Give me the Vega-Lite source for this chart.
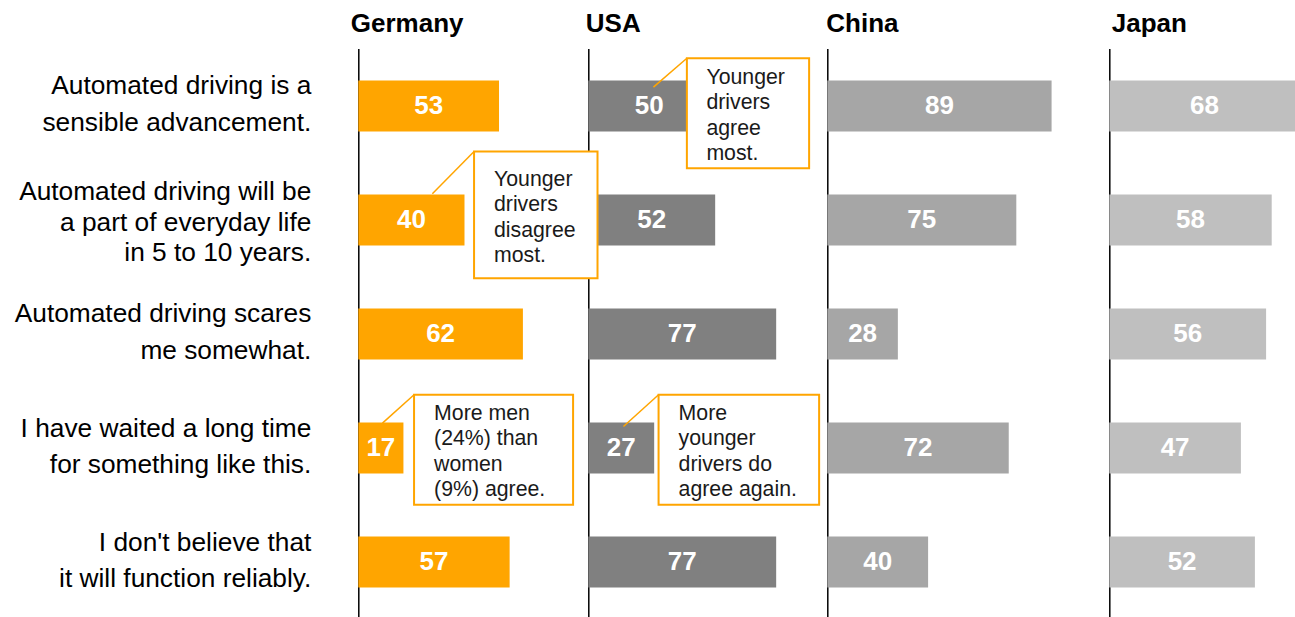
{
  "$schema": "https://vega.github.io/schema/vega-lite/v6.json",
  "padding": {"left": 13.3, "top": 10.5, "right": 0, "bottom": 0},
  "background": "white",
  "bounds": "flush",
  "spacing": 0,
  "config": {
    "view": {"stroke": null},
    "font": "Liberation Sans",
    "title": {"font": "Liberation Sans", "fontSize": 26, "fontWeight": "bold", "color": "black", "anchor": "start", "frame": "group", "offset": 11.5}
  },
  "datasets": {
    "bars": [
      {"country": "Germany", "statement": "Automated driving is a\nsensible advancement.", "value": 53},
      {"country": "Germany", "statement": "Automated driving will be\na part of everyday life\nin 5 to 10 years.", "value": 40},
      {"country": "Germany", "statement": "Automated driving scares\nme somewhat.", "value": 62},
      {"country": "Germany", "statement": "I have waited a long time\nfor something like this.", "value": 17},
      {"country": "Germany", "statement": "I don't believe that\nit will function reliably.", "value": 57},
      {"country": "USA", "statement": "Automated driving is a\nsensible advancement.", "value": 50},
      {"country": "USA", "statement": "Automated driving will be\na part of everyday life\nin 5 to 10 years.", "value": 52},
      {"country": "USA", "statement": "Automated driving scares\nme somewhat.", "value": 77},
      {"country": "USA", "statement": "I have waited a long time\nfor something like this.", "value": 27},
      {"country": "USA", "statement": "I don't believe that\nit will function reliably.", "value": 77},
      {"country": "China", "statement": "Automated driving is a\nsensible advancement.", "value": 89},
      {"country": "China", "statement": "Automated driving will be\na part of everyday life\nin 5 to 10 years.", "value": 75},
      {"country": "China", "statement": "Automated driving scares\nme somewhat.", "value": 28},
      {"country": "China", "statement": "I have waited a long time\nfor something like this.", "value": 72},
      {"country": "China", "statement": "I don't believe that\nit will function reliably.", "value": 40},
      {"country": "Japan", "statement": "Automated driving is a\nsensible advancement.", "value": 68},
      {"country": "Japan", "statement": "Automated driving will be\na part of everyday life\nin 5 to 10 years.", "value": 58},
      {"country": "Japan", "statement": "Automated driving scares\nme somewhat.", "value": 56},
      {"country": "Japan", "statement": "I have waited a long time\nfor something like this.", "value": 47},
      {"country": "Japan", "statement": "I don't believe that\nit will function reliably.", "value": 52}
    ],
    "notes": [
      {"country": "Germany", "note": "Younger\ndrivers\ndisagree\nmost.", "lineX": 27.9, "lineY": 0.770, "boxX": 43.6, "boxY": 0.399, "boxX2": 90.1, "boxY2": 1.511, "textX": 51.1, "textY": 0.698},
      {"country": "Germany", "note": "More men\n(24%) than\nwomen\n(9%) agree.", "lineX": 9.1, "lineY": 2.782, "boxX": 21.0, "boxY": 2.533, "boxX2": 80.9, "boxY2": 3.498, "textX": 28.55, "textY": 2.752},
      {"country": "USA", "note": "Younger\ndrivers\nagree\nmost.", "lineX": 26.7, "lineY": -0.165, "boxX": 40.4, "boxY": -0.419, "boxX2": 90.5, "boxY2": 0.546, "textX": 48.4, "textY": -0.194},
      {"country": "USA", "note": "More\nyounger\ndrivers do\nagree again.", "lineX": 14.4, "lineY": 2.811, "boxX": 28.8, "boxY": 2.533, "boxX2": 94.6, "boxY2": 3.498, "textX": 37.0, "textY": 2.752}
    ]
  },
  "hconcat": [
    {
      "width": 230, "height": 571,
      "title": {"text": "Germany", "dx": -7.5},
      "layer": [
        {
          "data": {"name": "bars"},
          "transform": [{"filter": "datum.country === 'Germany'"}],
          "encoding": {
            "y": {"field": "statement", "type": "nominal", "sort": null,
              "scale": {"paddingInner": 0, "paddingOuter": 0.004},
              "axis": {"title": null, "ticks": false, "domainColor": "black", "domainWidth": 1.5, "labelFontSize": 26.3, "labelColor": "black", "labelPadding": 47.5, "labelLimit": 0,
                "labelLineHeight": {"expr": "length(split(datum.value, '\\n')) > 2 ? 30.3 : 36.9"},
                "labelOffset": {"condition": {"test": "length(split(datum.value, '\\n')) > 2", "value": -27.6}, "value": -19.5},
                "labelExpr": "split(datum.value, '\\n')", "labelAlign": "right", "labelBaseline": "middle", "labelFont": "Liberation Sans"}}
          },
          "layer": [
            {"mark": {"type": "bar", "height": 51, "color": "#FFA500"},
             "encoding": {"x": {"field": "value", "type": "quantitative", "scale": {"domain": [0, 86.63], "nice": false}, "axis": null}}},
            {"mark": {"type": "text", "color": "white", "fontSize": 26, "fontWeight": "bold", "align": "center", "baseline": "middle"},
             "encoding": {"x": {"field": "value", "type": "quantitative", "scale": {"domain": [0, 173.26], "nice": false}, "axis": null}, "text": {"field": "value", "type": "quantitative"}}}
          ],
          "resolve": {"scale": {"x": "independent"}}
        },
        {
          "data": {"name": "notes"},
          "transform": [{"filter": "datum.country === 'Germany' && datum.boxX2 < 86.63"}],
          "layer": [
            {"mark": {"type": "rule", "color": "#FFA500", "strokeWidth": 1.5},
             "encoding": {
               "x": {"field": "lineX", "type": "quantitative", "scale": {"domain": [0, 86.63], "nice": false}, "axis": null},
               "y": {"field": "lineY", "type": "quantitative", "scale": {"domain": [-0.504, 4.504], "reverse": true, "nice": false, "zero": false}, "axis": null},
               "x2": {"field": "boxX"}, "y2": {"field": "boxY"}}},
            {"mark": {"type": "rect", "fill": "white", "stroke": "#FFA500", "strokeWidth": 2},
             "encoding": {
               "x": {"field": "boxX", "type": "quantitative", "scale": {"domain": [0, 86.63], "nice": false}, "axis": null},
               "y": {"field": "boxY", "type": "quantitative", "scale": {"domain": [-0.504, 4.504], "reverse": true, "nice": false, "zero": false}, "axis": null},
               "x2": {"field": "boxX2"}, "y2": {"field": "boxY2"}}},
            {"mark": {"type": "text", "align": "left", "baseline": "alphabetic", "lineBreak": "\n", "fontSize": 21.3, "lineHeight": 25.5, "color": "#1a1a1a"},
             "encoding": {
               "x": {"field": "textX", "type": "quantitative", "scale": {"domain": [0, 86.63], "nice": false}, "axis": null},
               "y": {"field": "textY", "type": "quantitative", "scale": {"domain": [-0.504, 4.504], "reverse": true, "nice": false, "zero": false}, "axis": null},
               "text": {"field": "note", "type": "nominal"}}}
          ]
        }
      ],
      "resolve": {"scale": {"x": "independent", "y": "independent"}}
    },
    {
      "width": 239, "height": 571,
      "title": {"text": "USA", "dx": -2.5},
      "layer": [
        {
          "data": {"name": "bars"},
          "transform": [{"filter": "datum.country === 'USA'"}],
          "encoding": {
            "y": {"field": "statement", "type": "nominal", "sort": null,
              "scale": {"paddingInner": 0, "paddingOuter": 0.004},
              "axis": {"title": null, "ticks": false, "labels": false, "domainColor": "black", "domainWidth": 1.5}}
          },
          "layer": [
            {"mark": {"type": "bar", "height": 51, "color": "#808080"},
             "encoding": {"x": {"field": "value", "type": "quantitative", "scale": {"domain": [0, 97.95], "nice": false}, "axis": null}}},
            {"mark": {"type": "text", "color": "white", "fontSize": 26, "fontWeight": "bold", "align": "center", "baseline": "middle"},
             "encoding": {"x": {"field": "value", "type": "quantitative", "scale": {"domain": [0, 195.9], "nice": false}, "axis": null}, "text": {"field": "value", "type": "quantitative"}}}
          ],
          "resolve": {"scale": {"x": "independent"}}
        },
        {
          "data": {"name": "notes"},
          "transform": [{"filter": "datum.country === 'USA'"}],
          "layer": [
            {"mark": {"type": "rule", "color": "#FFA500", "strokeWidth": 1.5},
             "encoding": {
               "x": {"field": "lineX", "type": "quantitative", "scale": {"domain": [0, 97.95], "nice": false}, "axis": null},
               "y": {"field": "lineY", "type": "quantitative", "scale": {"domain": [-0.504, 4.504], "reverse": true, "nice": false, "zero": false}, "axis": null},
               "x2": {"field": "boxX"}, "y2": {"field": "boxY"}}},
            {"mark": {"type": "rect", "fill": "white", "stroke": "#FFA500", "strokeWidth": 2},
             "encoding": {
               "x": {"field": "boxX", "type": "quantitative", "scale": {"domain": [0, 97.95], "nice": false}, "axis": null},
               "y": {"field": "boxY", "type": "quantitative", "scale": {"domain": [-0.504, 4.504], "reverse": true, "nice": false, "zero": false}, "axis": null},
               "x2": {"field": "boxX2"}, "y2": {"field": "boxY2"}}},
            {"mark": {"type": "text", "align": "left", "baseline": "alphabetic", "lineBreak": "\n", "fontSize": 21.3, "lineHeight": 25.5, "color": "#1a1a1a"},
             "encoding": {
               "x": {"field": "textX", "type": "quantitative", "scale": {"domain": [0, 97.95], "nice": false}, "axis": null},
               "y": {"field": "textY", "type": "quantitative", "scale": {"domain": [-0.504, 4.504], "reverse": true, "nice": false, "zero": false}, "axis": null},
               "text": {"field": "note", "type": "nominal"}}}
          ]
        },
        {
          "data": {"name": "notes"},
          "transform": [{"filter": "datum.country === 'Germany' && datum.boxX2 >= 86.63"}],
          "layer": [
            {"mark": {"type": "rule", "color": "#FFA500", "strokeWidth": 1.5},
             "encoding": {
               "x": {"field": "lineX", "type": "quantitative", "scale": {"domain": [86.63, 176.65], "nice": false, "zero": false}, "axis": null},
               "y": {"field": "lineY", "type": "quantitative", "scale": {"domain": [-0.504, 4.504], "reverse": true, "nice": false, "zero": false}, "axis": null},
               "x2": {"field": "boxX"}, "y2": {"field": "boxY"}}},
            {"mark": {"type": "rect", "fill": "white", "stroke": "#FFA500", "strokeWidth": 2},
             "encoding": {
               "x": {"field": "boxX", "type": "quantitative", "scale": {"domain": [86.63, 176.65], "nice": false, "zero": false}, "axis": null},
               "y": {"field": "boxY", "type": "quantitative", "scale": {"domain": [-0.504, 4.504], "reverse": true, "nice": false, "zero": false}, "axis": null},
               "x2": {"field": "boxX2"}, "y2": {"field": "boxY2"}}},
            {"mark": {"type": "text", "align": "left", "baseline": "alphabetic", "lineBreak": "\n", "fontSize": 21.3, "lineHeight": 25.5, "color": "#1a1a1a"},
             "encoding": {
               "x": {"field": "textX", "type": "quantitative", "scale": {"domain": [86.63, 176.65], "nice": false, "zero": false}, "axis": null},
               "y": {"field": "textY", "type": "quantitative", "scale": {"domain": [-0.504, 4.504], "reverse": true, "nice": false, "zero": false}, "axis": null},
               "text": {"field": "note", "type": "nominal"}}}
          ]
        }
      ],
      "resolve": {"scale": {"x": "independent", "y": "independent"}}
    },
    {
      "width": 282, "height": 571,
      "title": {"text": "China", "dx": -1},
      "data": {"name": "bars"},
      "transform": [{"filter": "datum.country === 'China'"}],
      "encoding": {
        "y": {"field": "statement", "type": "nominal", "sort": null,
          "scale": {"paddingInner": 0, "paddingOuter": 0.004},
          "axis": {"title": null, "ticks": false, "labels": false, "domainColor": "black", "domainWidth": 1.5}}
      },
      "layer": [
        {"mark": {"type": "bar", "height": 51, "color": "#A6A6A6"},
         "encoding": {"x": {"field": "value", "type": "quantitative", "scale": {"domain": [0, 111.9], "nice": false}, "axis": null}}},
        {"mark": {"type": "text", "color": "white", "fontSize": 26, "fontWeight": "bold", "align": "center", "baseline": "middle"},
         "encoding": {"x": {"field": "value", "type": "quantitative", "scale": {"domain": [0, 223.8], "nice": false}, "axis": null}, "text": {"field": "value", "type": "quantitative"}}}
      ],
      "resolve": {"scale": {"x": "independent"}}
    },
    {
      "width": 189, "height": 571,
      "title": {"text": "Japan", "dx": 2.5},
      "data": {"name": "bars"},
      "transform": [{"filter": "datum.country === 'Japan'"}],
      "encoding": {
        "y": {"field": "statement", "type": "nominal", "sort": null,
          "scale": {"paddingInner": 0, "paddingOuter": 0.004},
          "axis": {"title": null, "ticks": false, "labels": false, "domainColor": "black", "domainWidth": 1.5}}
      },
      "layer": [
        {"mark": {"type": "bar", "height": 51, "color": "#BFBFBF"},
         "encoding": {"x": {"field": "value", "type": "quantitative", "scale": {"domain": [0, 67.5], "nice": false}, "axis": null}}},
        {"mark": {"type": "text", "color": "white", "fontSize": 26, "fontWeight": "bold", "align": "center", "baseline": "middle"},
         "encoding": {"x": {"field": "value", "type": "quantitative", "scale": {"domain": [0, 135], "nice": false}, "axis": null}, "text": {"field": "value", "type": "quantitative"}}}
      ],
      "resolve": {"scale": {"x": "independent"}}
    }
  ]
}
